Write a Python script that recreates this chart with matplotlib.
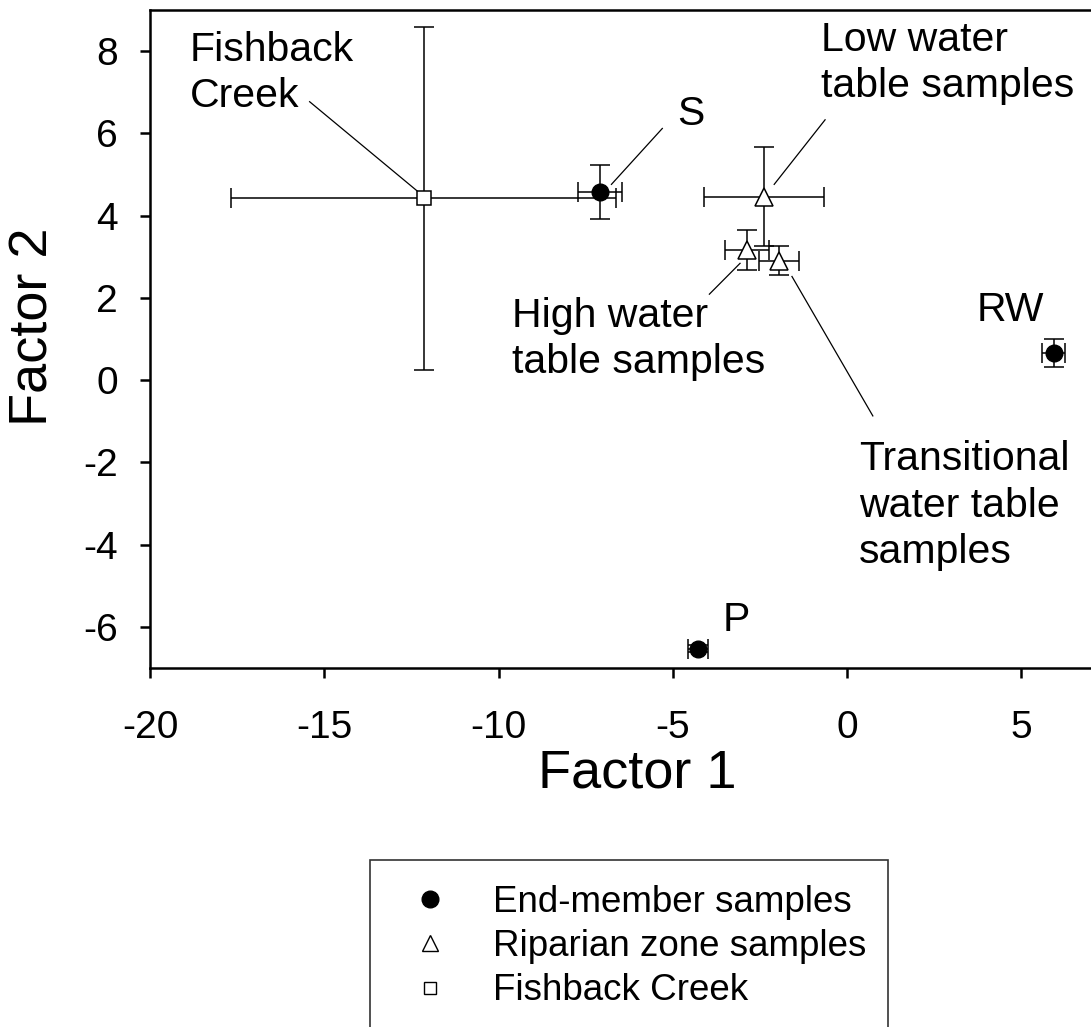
import matplotlib
matplotlib.use('Agg')
import matplotlib.pyplot as plt
from matplotlib.patches import Rectangle

plt.rcParams['font.family'] = ['Liberation Sans', 'DejaVu Sans']
plt.rcParams['axes.unicode_minus'] = False

# factor scores (mean +/- error)
end_names = ['S', 'RW', 'P']
end_x = [-7.08, 5.93, -4.27]
end_y = [4.57, 0.66, -6.53]
end_xerr = [0.63, 0.33, 0.29]
end_yerr = [0.65, 0.34, 0.08]

rip_names = ['Low water\ntable samples', 'High water\ntable samples', 'Transitional\nwater table\nsamples']
rip_x = [-2.38, -2.87, -1.95]
rip_y = [4.46, 3.16, 2.90]
rip_xerr = [1.72, 0.63, 0.57]
rip_yerr = [1.20, 0.49, 0.35]

creek_x = [-12.15]
creek_y = [4.42]
creek_xerr = [5.52]
creek_yerr = [4.17]

fig = plt.figure(figsize=(10.91, 10.27), dpi=100)
ax = fig.add_axes([150/1091, 1 - 668/1027, 1 - 150/1091, (668 - 10)/1027])

eb = dict(ecolor='black', elinewidth=1.1, capsize=7, capthick=1.1, linestyle='none')
ax.errorbar(creek_x, creek_y, xerr=creek_xerr, yerr=creek_yerr, marker='s', ms=10,
            mfc='white', mec='black', mew=1.1, zorder=3, **eb)
ax.errorbar(rip_x, rip_y, xerr=rip_xerr, yerr=rip_yerr, marker='^', ms=12.5,
            mfc='white', mec='black', mew=1.1, zorder=3, **eb)
ax.errorbar(end_x, end_y, xerr=end_xerr, yerr=end_yerr, marker='o', ms=12,
            mfc='black', mec='black', zorder=4, **eb)

fs = 29.5
ls = 1.28
# labels and leader lines
ax.text(-18.85, 8.50, 'Fishback\nCreek', fontsize=fs, ha='left', va='top', linespacing=ls)
ax.plot([-15.42, -12.32], [6.77, 4.59], color='black', lw=0.9)
ax.text(-4.47, 6.48, end_names[0], fontsize=fs, ha='center', va='center')
ax.plot([-5.30, -6.76], [6.12, 4.76], color='black', lw=0.9)
ax.text(-0.74, 8.74, rip_names[0], fontsize=fs, ha='left', va='top', linespacing=ls)
ax.plot([-0.63, -2.09], [6.33, 4.76], color='black', lw=0.9)
ax.text(-9.60, 2.03, rip_names[1], fontsize=fs, ha='left', va='top', linespacing=ls)
ax.plot([-3.07, -3.95], [2.84, 2.09], color='black', lw=0.9)
ax.text(0.34, -1.46, rip_names[2], fontsize=fs, ha='left', va='top', linespacing=ls)
ax.plot([-1.58, 0.74], [2.52, -0.87], color='black', lw=0.9)
ax.text(4.70, 1.70, end_names[1], fontsize=fs, ha='center', va='center')
ax.text(-3.18, -5.83, end_names[2], fontsize=fs, ha='center', va='center')

ax.set_xlim(-20, 7)
ax.set_ylim(-7, 9)
ax.set_xticks([-20, -15, -10, -5, 0, 5])
ax.set_yticks([-6, -4, -2, 0, 2, 4, 6, 8])
ax.tick_params(direction='out', length=7, width=1.8, labelsize=28)
ax.tick_params(axis='x', pad=23)
ax.tick_params(axis='y', pad=16)
for side in ['left', 'bottom', 'top']:
    ax.spines[side].set_linewidth(1.8)
ax.spines['right'].set_visible(False)

ax.set_xlabel('Factor 1', fontsize=39)
ax.set_ylabel('Factor 2', fontsize=39)
ax.xaxis.set_label_coords(0.5175, -0.123)
ax.yaxis.set_label_coords(-0.097, 0.518)

# legend with a frame running off the bottom of the figure
fig.patches.append(Rectangle((370/1091, -0.05), (888 - 370)/1091, 1 - 860/1027 + 0.05,
                             transform=fig.transFigure, fill=False, ec='#333333', lw=1.2))
h1 = plt.Line2D([], [], marker='o', ms=12, color='black', ls='none')
h2 = plt.Line2D([], [], marker='^', ms=11, mfc='white', mec='black', ls='none')
h3 = plt.Line2D([], [], marker='s', ms=9, mfc='white', mec='black', ls='none')
fig.legend([h1, h2, h3], ['End-member samples', 'Riparian zone samples', 'Fishback Creek'],
           loc='upper left', bbox_to_anchor=(412/1091, 1 - 885/1027), frameon=False,
           fontsize=26.5, handletextpad=1.2, labelspacing=0.25, borderpad=0,
           borderaxespad=0, handlelength=1.0)

fig.savefig('out.png', dpi=100)
